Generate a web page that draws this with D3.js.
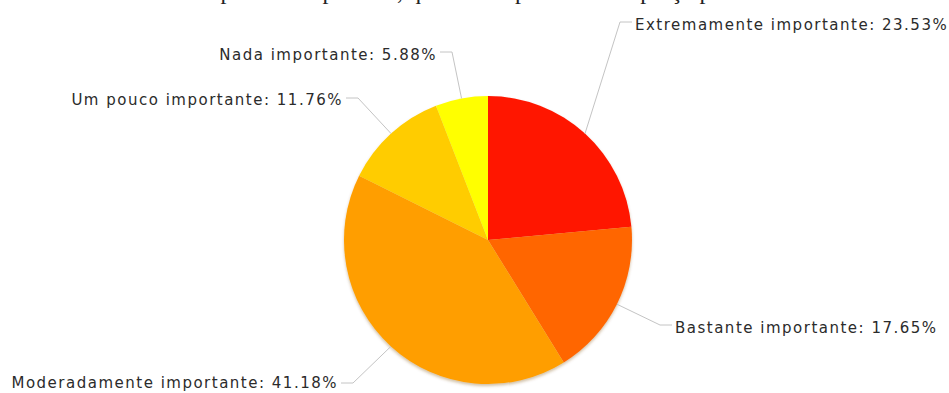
<!DOCTYPE html>
<html>
<head>
<meta charset="utf-8">
<script src="https://cdn.jsdelivr.net/npm/d3@7"></script>
<style>
  html, body { margin: 0; padding: 0; background: #fff; }
  svg { display: block; }
</style>
</head>
<body>
<svg id="chart" width="949" height="393"></svg>
<script>
// Answer categories and their share of responses (%)
const categories = [
  "Extremamente importante",
  "Bastante importante",
  "Moderadamente importante",
  "Um pouco importante",
  "Nada importante"
];
const values = [23.53, 17.65, 41.18, 11.76, 5.88];
const colors = ["#ff1400", "#ff6600", "#ff9e00", "#ffcc00", "#ffff00"];
const titleText = "Na compra de um produto, qual é a importância do preço para você?";

const W = 949, H = 393;
const cx = 488, cy = 240, R = 144;

const svg = d3.select("#chart");

// Soft shadow under the pie
const defs = svg.append("defs");
const f = defs.append("filter").attr("id", "shadow")
  .attr("x", "-10%").attr("y", "-10%").attr("width", "120%").attr("height", "125%");
f.append("feDropShadow").attr("dx", 0).attr("dy", 2).attr("stdDeviation", 1.5)
  .attr("flood-color", "#7a4a00").attr("flood-opacity", 0.35);

// Title (sits mostly above the visible area)
svg.append("text")
  .attr("x", 474).attr("y", -1)
  .attr("text-anchor", "middle")
  .attr("font-family", "Liberation Serif, Times New Roman, serif")
  .attr("font-size", 24)
  .attr("fill", "#222")
  .text(titleText);

const pie = d3.pie().sort(null).value(d => d);
const arcs = pie(values);
const arc = d3.arc().innerRadius(0).outerRadius(R);

const g = svg.append("g").attr("transform", `translate(${cx},${cy})`);

g.append("g").attr("filter", "url(#shadow)")
  .selectAll("path")
  .data(arcs)
  .join("path")
  .attr("d", arc)
  .attr("fill", (d, i) => colors[i]);

// Elbow points of the leader lines, relative to the pie centre,
// the side the label text goes on, and the text's baseline offset.
const labelLayout = [
  { ex: 132, ey: -218, side: 1, ty: 8 },
  { ex: 172, ey: 85, side: 1, ty: 8 },
  { ex: -135, ey: 143, side: -1, ty: 5 },
  { ex: -130, ey: -142, side: -1, ty: 7 },
  { ex: -36, ey: -188, side: -1, ty: 8 }
];

const fmt = v => v.toFixed(2) + "%";

arcs.forEach((d, i) => {
  const mid = (d.startAngle + d.endAngle) / 2;
  const sx = Math.sin(mid) * R, sy = -Math.cos(mid) * R;
  const L = labelLayout[i];
  const stubEnd = L.ex + L.side * 12;
  g.append("polyline")
    .attr("points", `${sx},${sy} ${L.ex},${L.ey} ${stubEnd},${L.ey}`)
    .attr("fill", "none")
    .attr("stroke", "#c4c4c4")
    .attr("stroke-width", 1);
  g.append("text")
    .attr("x", stubEnd + L.side * 3)
    .attr("y", L.ey + L.ty)
    .attr("text-anchor", L.side > 0 ? "start" : "end")
    .attr("font-family", "DejaVu Sans, Verdana, sans-serif")
    .attr("font-size", 15)
    .attr("letter-spacing", 1.5)
    .attr("fill", "#2b2b2b")
    .text(`${categories[i]}: ${fmt(values[i])}`);
});
</script>
</body>
</html>
